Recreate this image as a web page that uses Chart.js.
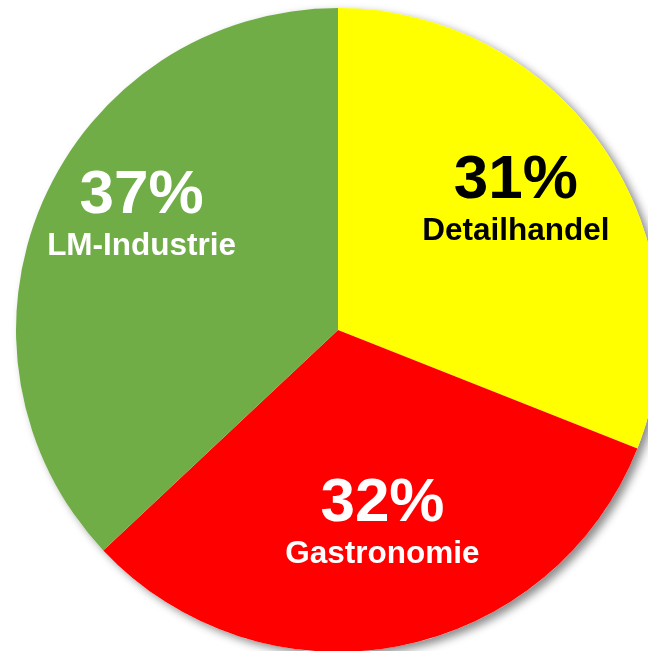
<!DOCTYPE html>
<html>
<head>
<meta charset="utf-8">
<script src="https://cdn.jsdelivr.net/npm/chart.js@4/dist/chart.umd.min.js"></script>
<style>
  html, body { margin: 0; padding: 0; background: #ffffff; overflow: hidden; width: 648px; height: 651px; }
  #c { position: absolute; left: 0; top: 0; }
</style>
</head>
<body>
<canvas id="c" width="676" height="660"></canvas>
<script>
const categories = ["Detailhandel", "Gastronomie", "LM-Industrie"];
const shares = [31, 32, 37];
const sliceColors = ["#FFFF00", "#FF0000", "#70AD47"];
const labelColors = ["#000000", "#FFFFFF", "#FFFFFF"];

// label placement (style): fraction of radius and angle offset (degrees) from slice mid-angle
const labelRadiusFrac = [0.688, 0.609, 0.710];
const labelAngleOffset = [-2.4, -2.3, 7.4];

const shadowPlugin = {
  id: 'pieShadow',
  beforeDatasetsDraw(chart) {
    const meta = chart.getDatasetMeta(0);
    const arc = meta.data[0];
    if (!arc) return;
    const ctx = chart.ctx;
    ctx.save();
    ctx.shadowColor = 'rgba(0,0,0,0.45)';
    ctx.shadowBlur = 9;
    ctx.shadowOffsetX = 5;
    ctx.shadowOffsetY = 4;
    ctx.fillStyle = '#ffffff';
    ctx.beginPath();
    ctx.arc(arc.x, arc.y, arc.outerRadius, 0, Math.PI * 2);
    ctx.fill();
    ctx.restore();
  }
};

const labelPlugin = {
  id: 'pieLabels',
  afterDatasetsDraw(chart) {
    const ctx = chart.ctx;
    const meta = chart.getDatasetMeta(0);
    const data = chart.data.datasets[0].data;
    meta.data.forEach((arc, i) => {
      const mid = (arc.startAngle + arc.endAngle) / 2 + labelAngleOffset[i] * Math.PI / 180;
      const r = arc.outerRadius * labelRadiusFrac[i];
      const x = arc.x + Math.cos(mid) * r;
      const y = arc.y + Math.sin(mid) * r;
      ctx.save();
      ctx.fillStyle = labelColors[i];
      ctx.textAlign = 'center';
      ctx.textBaseline = 'alphabetic';
      ctx.font = 'bold 62px "Liberation Sans", Arial, sans-serif';
      ctx.fillText(data[i] + '%', x, y);
      ctx.font = 'bold 31.5px "Liberation Sans", Arial, sans-serif';
      ctx.fillText(chart.data.labels[i], x, y + 42);
      ctx.restore();
    });
  }
};

new Chart(document.getElementById('c'), {
  type: 'pie',
  data: {
    labels: categories,
    datasets: [{
      data: shares,
      backgroundColor: sliceColors,
      borderWidth: 0,
      radius: 322
    }]
  },
  options: {
    responsive: false,
    animation: false,
    layout: { padding: 0 },
    plugins: {
      legend: { display: false },
      tooltip: { enabled: false }
    }
  },
  plugins: [shadowPlugin, labelPlugin]
});
</script>
</body>
</html>
